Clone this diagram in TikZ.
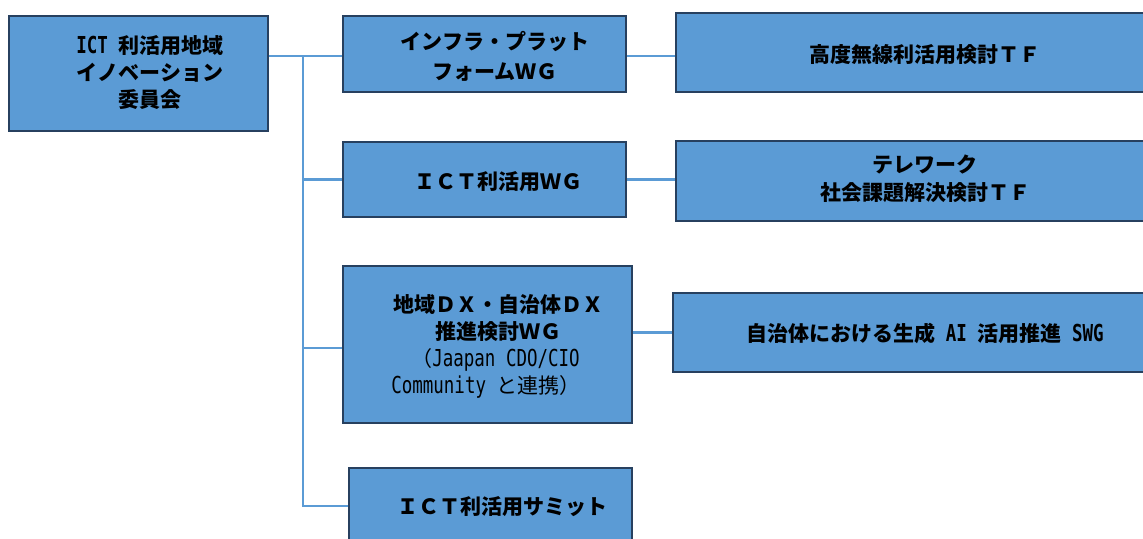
\documentclass[tikz,border=0pt]{standalone}
\usepackage{fontspec}
\setmainfont{Noto Sans CJK JP}
\newfontfamily\monofam{DejaVu Sans Mono}[FakeStretch=0.75]
\newcommand\halfw[1]{{\monofam\fontsize{17.5pt}{20.25pt}\selectfont #1}}
\definecolor{boxfill}{HTML}{5B9BD5}
\definecolor{boxline}{HTML}{27405F}
\definecolor{connblue}{HTML}{5B9BD5}
\begin{document}
\begin{tikzpicture}[x=0.75pt,y=-0.75pt,
  box/.style={draw=boxline, line width=1.9pt, fill=boxfill, inner sep=0pt},
  lbl/.style={inner sep=0pt, align=center, font=\fontsize{15.75pt}{20.25pt}\selectfont\bfseries},
  lblreg/.style={inner sep=0pt, anchor=west, font=\fontsize{15.75pt}{20.25pt}\selectfont},
  connline/.style={draw=connblue, line width=1.6pt}]
\useasboundingbox (0,0) rectangle (1143,539);
\clip (0,0) rectangle (1143,539);
\fill[white] (0,0) rectangle (1143,539);

% boxes
\node[box, minimum width=194.25pt, minimum height=86.25pt] (root) at (138.5,73.5) {};
\node[box, minimum width=212.25pt, minimum height=57pt] (wg1) at (484.5,54) {};
\node[box, minimum width=212.25pt, minimum height=56.25pt] (wg2) at (484.5,179.5) {};
\node[box, minimum width=216.75pt, minimum height=117.75pt] (wg3) at (487.5,344.5) {};
\node[box, minimum width=212.25pt, minimum height=57pt] (summit) at (490.5,506) {};
\node[box, minimum width=378pt, minimum height=59.25pt] (tf1) at (928,52.5) {};
\node[box, minimum width=378pt, minimum height=60pt] (tf2) at (928,181) {};
\node[box, minimum width=380.25pt, minimum height=59.25pt] (swg) at (926.5,332.5) {};

% labels
\node[lbl] (root-t) at (150,73) {\halfw{ICT }利活用地域\\イノベーション\\委員会};
\node[lbl, font=\fontsize{15.75pt}{22.5pt}\selectfont\bfseries] (wg1-t) at (495,56) {インフラ・プラット\\フォームＷＧ};
\node[lbl] (wg2-t) at (498,182) {ＩＣＴ利活用ＷＧ};
\node[lbl] (wg3-t) at (498,318.5) {地域ＤＸ・自治体ＤＸ\\推進検討ＷＧ};
\node[lblreg] (wg3-a) at (411,360) {（\halfw{Jaapan CDO/CIO}};
\node[lblreg] (wg3-b) at (391,387) {\halfw{Community }と連携）};
\node[lbl] (summit-t) at (502,507) {ＩＣＴ利活用サミット};
\node[lbl] (tf1-t) at (925,55) {高度無線利活用検討ＴＦ};
\node[lbl, font=\fontsize{15.75pt}{21pt}\selectfont\bfseries] (tf2-t) at (925,179) {テレワーク\\社会課題解決検討ＴＦ};
\node[lbl] (swg-t) at (925,333) {自治体における生成\halfw{ AI }活用推進\halfw{ SWG}};

% connectors
\coordinate (trunk) at (303,56);
\draw[connline] (root.east |- trunk) -- (wg1.west |- trunk);
\draw[connline] (trunk) -- (trunk |- summit.west) -- (summit.west);
\draw[connline] (trunk |- wg2.west) -- (wg2.west);
\draw[connline] ([yshift=-2.6pt]trunk |- wg3.west) -- ([yshift=-2.6pt]wg3.west);
\draw[connline] (wg1.east |- trunk) -- (tf1.west |- trunk);
\draw[connline] (wg2.east) -- (wg2.east -| tf2.west);
\draw[connline] (swg.west) -- (swg.west -| wg3.east);
\end{tikzpicture}
\end{document}
